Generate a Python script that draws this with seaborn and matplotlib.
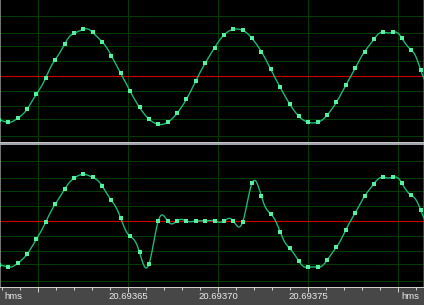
import numpy as np
import pandas as pd
import matplotlib
matplotlib.use("Agg")
import matplotlib.pyplot as plt
from matplotlib.patches import Rectangle
from matplotlib.ticker import FixedLocator, FixedFormatter
import seaborn as sns

# ---------------- data ----------------
SAMPLE_RATE = 192000            # samples per second
FIRST_SAMPLE_TIME = 20.6935781  # time (s) of the first listed sample

# channel 1 (upper waveform), normalized sample values
channel_1 = [-0.73, -0.772, -0.705, -0.555, -0.305, -0.028, 0.272, 0.528, 0.712, 0.778,
             0.728, 0.572, 0.338, 0.045, -0.255, -0.522, -0.717, -0.805, -0.772, -0.622,
             -0.388, -0.083, 0.212, 0.472, 0.683, 0.778, 0.762, 0.628, 0.405, 0.112,
             -0.188, -0.462, -0.672, -0.772, -0.772, -0.655, -0.438, -0.155, 0.128, 0.405,
             0.612, 0.728, 0.728, 0.628, 0.433, 0.095, -0.17]

# channel 2 (lower waveform, with the dropout glitch)
channel_2 = [-0.73, -0.767, -0.705, -0.555, -0.305, -0.017, 0.278, 0.528, 0.712, 0.778,
             0.728, 0.59, 0.345, 0.045, -0.255, -0.522, -0.722, 0.0, 0.0, 0.0,
             0.0, 0.0, 0.0, 0.0, 0.0, 0.0, -0.017, 0.628, 0.412, 0.117,
             -0.183, -0.455, -0.672, -0.772, -0.772, -0.655, -0.438, -0.15, 0.133, 0.412,
             0.622, 0.728, 0.728, 0.628, 0.428, 0.178, -0.1]

major_ticks = [20.69360, 20.69365, 20.69370, 20.69375, 20.69380]
major_labels = ["", "20.69365", "20.69370", "20.69375", ""]
unit_label = "hms"
grid_levels = [-1.0, -0.722, -0.5, -0.25, 0.25, 0.5, 0.722, 1.0]

# ---------------- styling ----------------
W, H, DPI = 424, 305, 100
PX = 72.0 / DPI
BG = "#474747"
PANEL = "#000000"
GRID = "#003c00"
RED = "#d00000"
LINE = "#1cbc78"
DOT = "#55f0a0"
TXT = "#ececec"

plt.rcParams["font.family"] = ["Liberation Sans", "DejaVu Sans"]

times = FIRST_SAMPLE_TIME + np.arange(len(channel_1)) / SAMPLE_RATE
XLIM = (20.69365 - 128.3 / 1.8e6, 20.69365 + 295.7 / 1.8e6)
YLIM = (-66 / 60.0, 76 / 60.0)


def sinc_curve(values, t_samples, t_dense, a=24):
    v = np.asarray(values, dtype=float)
    x = (t_dense[:, None] - t_samples[None, :]) * SAMPLE_RATE
    w = np.sinc(x) * np.sinc(x / a) * (np.abs(x) < a)
    return (w @ v) / w.sum(axis=1)


t_dense = np.linspace(XLIM[0], XLIM[1], 1600)

fig = plt.figure(figsize=(W / DPI, H / DPI), dpi=DPI, facecolor=BG)
ax_top = fig.add_axes([0, (H - 142) / H, 1, 142 / H])
ax_bot = fig.add_axes([0, 18 / H, 1, 142 / H])

for ax, vals in ((ax_top, channel_1), (ax_bot, channel_2)):
    ax.set_facecolor(PANEL)
    for lv in grid_levels:
        ax.axhline(lv, color=GRID, lw=1 * PX, zorder=1)
    for t in major_ticks:
        ax.axvline(t, color=GRID, lw=1 * PX, zorder=1)
    ax.axhline(0, color=RED, lw=1.1 * PX, zorder=2)
    df_line = pd.DataFrame({"t": t_dense, "v": sinc_curve(vals, times, t_dense)})
    sns.lineplot(data=df_line, x="t", y="v", ax=ax, color=LINE, lw=1.35 * PX,
                 estimator=None, sort=False, zorder=3)
    df_pts = pd.DataFrame({"t": times, "v": vals})
    sns.scatterplot(data=df_pts, x="t", y="v", ax=ax, marker="s", s=6.0, color=DOT,
                    linewidth=0, zorder=4)
    ax.set_xlim(*XLIM)
    ax.set_ylim(*YLIM)
    ax.set_xlabel("")
    ax.set_ylabel("")
    ax.set_yticks([])
    for s in ("top", "right", "bottom"):
        ax.spines[s].set_visible(False)
    ax.spines["left"].set_color("#9a9a9a")
    ax.spines["left"].set_linewidth(1.5 * PX)
    ax.spines["right"].set_visible(True)
    ax.spines["right"].set_color("#505050")
    ax.spines["right"].set_linewidth(1.5 * PX)

ax_top.set_xticks([])

minor_ticks = [20.69358, 20.69359, 20.69361, 20.69362, 20.69363, 20.69364, 20.69366,
               20.69367, 20.69368, 20.69369, 20.69371, 20.69372, 20.69373, 20.69374,
               20.69376, 20.69377, 20.69378, 20.69379, 20.69381]
ax_bot.xaxis.set_major_locator(FixedLocator(major_ticks))
ax_bot.xaxis.set_major_formatter(FixedFormatter(major_labels))
ax_bot.xaxis.set_minor_locator(FixedLocator(minor_ticks))
ax_bot.spines["bottom"].set_visible(True)
ax_bot.spines["bottom"].set_color("#cfcfcf")
ax_bot.spines["bottom"].set_linewidth(1 * PX)
ax_bot.tick_params(axis="x", which="major", direction="out", length=5 * PX, width=1 * PX,
                   color="#cfcfcf", labelcolor=TXT, labelsize=6.8, pad=0.3)
ax_bot.tick_params(axis="x", which="minor", direction="out", length=2.7 * PX, width=1 * PX,
                   color="#cfcfcf")

# separator bar between the two channels
fig.patches.append(Rectangle((0, (H - 145) / H), 1, 3 / H, transform=fig.transFigure,
                             facecolor="#a4a4ac", edgecolor="none", zorder=5))
fig.patches.append(Rectangle((0, (H - 143) / H), 1, 1 / H, transform=fig.transFigure,
                             facecolor="#c4c4cc", edgecolor="none", zorder=6))

label_y = ax_bot.xaxis.get_ticklabels()[1]
fig.canvas.draw()
bb = label_y.get_window_extent()
ytext = (bb.y0 + bb.y1) / 2 / H
fig.text(4 / W, ytext, unit_label, color=TXT, fontsize=6.8, ha="left", va="center")
fig.text(419 / W, ytext, unit_label, color=TXT, fontsize=6.8, ha="right", va="center")

fig.savefig("out.png", dpi=DPI, facecolor=BG)
